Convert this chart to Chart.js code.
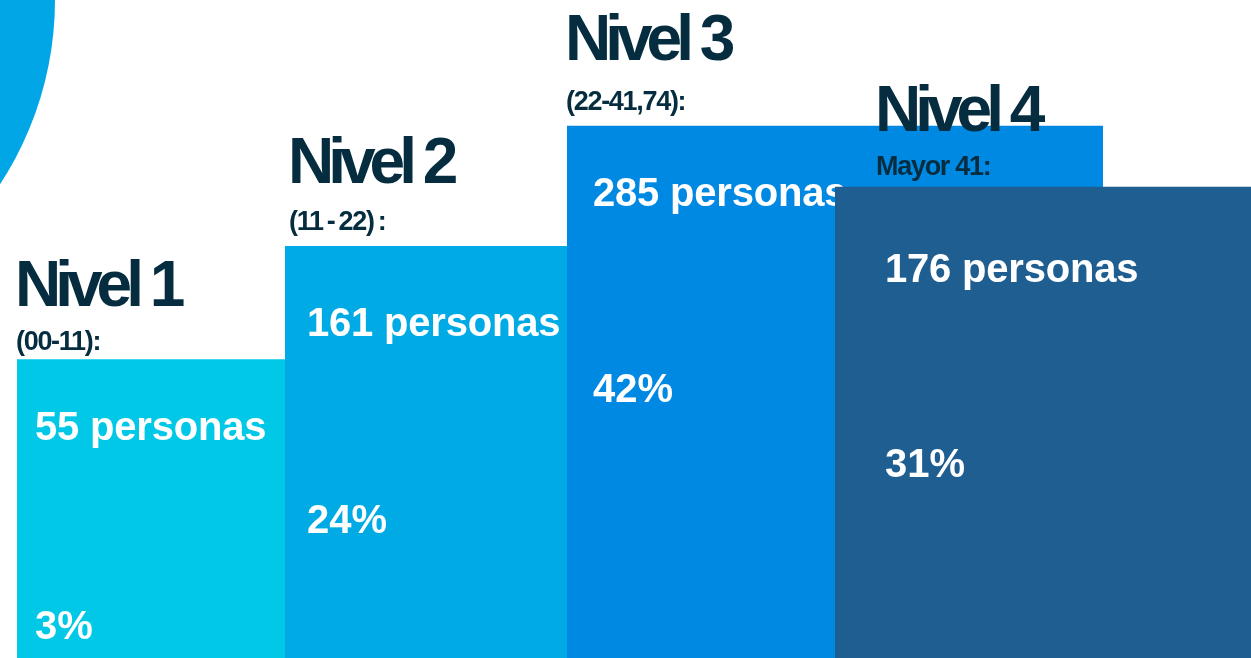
<!DOCTYPE html>
<html>
<head>
<meta charset="utf-8">
<script src="https://cdn.jsdelivr.net/npm/chart.js@4/dist/chart.umd.min.js"></script>
<style>
  html, body { margin: 0; padding: 0; background: #fff; overflow: hidden; }
  canvas { display: block; }
</style>
</head>
<body>
<canvas id="niveles" width="1251" height="658"></canvas>
<script>
// Datos
const niveles = ['Nivel 1', 'Nivel 2', 'Nivel 3', 'Nivel 4'];
const rangos = ['(00-11):', '(11\u2009-\u200922)\u2009:', '(22-41,74):', 'Mayor 41:'];
const personas = [55, 161, 285, 176];
const porcentajes = [3, 24, 42, 31];
// altura de cada escalón (escala 0-100)
const alturas = [45.4, 62.6, 80.9, 71.6];

// Maquetación: tramo horizontal de cada escalón (escala 0-100) y colores
const tramos = [[1.359, 22.782], [22.782, 45.324], [45.324, 88.169], [66.747, 100]];
const colores = ['#00C8E6', '#00AAE4', '#0089E2', '#1F5E91'];
// desplazamientos de los textos respecto a la esquina superior izquierda de cada escalón (px)
const offTitulo = [[-2, -53], [3, -63], [-2, -66], [40, -56]];
const offRango = [[-1, -9], [4, -16], [-1, -16], [41, -12]];
const offPersonas = [[18, 81], [22, 90], [26, 80], [50, 95]];
const offPct = [[18, 280], [22, 287], [26, 276], [50, 290]];

const FUENTE = '"Liberation Sans", Arial, sans-serif';

function escribir(ctx, str, x, y, font, color, spacing) {
    ctx.font = font;
    ctx.fillStyle = color;
    ctx.letterSpacing = (spacing || 0) + 'px';
    ctx.fillText(str, x, y);
    ctx.letterSpacing = '0px';
}

// Círculo decorativo de la esquina superior izquierda
const circuloPlugin = {
    id: 'circulo',
    beforeDatasetsDraw(chart) {
        const ctx = chart.ctx;
        ctx.save();
        ctx.fillStyle = '#00A6E6';
        ctx.beginPath();
        ctx.arc(-281, 0, 336, 0, Math.PI * 2);
        ctx.fill();
        ctx.restore();
    }
};

// Textos de cada escalón, dibujados justo después de su relleno
const etiquetasPlugin = {
    id: 'etiquetas',
    afterDatasetDraw(chart, args) {
        const i = args.index;
        const ctx = chart.ctx;
        const x0 = chart.scales.x.getPixelForValue(tramos[i][0]);
        const top = chart.scales.y.getPixelForValue(alturas[i]);
        ctx.save();
        ctx.textAlign = 'left';
        ctx.textBaseline = 'alphabetic';
        escribir(ctx, niveles[i], x0 + offTitulo[i][0], top + offTitulo[i][1],
            'bold 64px ' + FUENTE, '#052C3F', -6);
        escribir(ctx, rangos[i], x0 + offRango[i][0], top + offRango[i][1],
            'bold 27px ' + FUENTE, '#052C3F', -1.3);
        escribir(ctx, personas[i] + ' personas', x0 + offPersonas[i][0], top + offPersonas[i][1],
            'bold 40px ' + FUENTE, '#FFFFFF', -0.2);
        escribir(ctx, porcentajes[i] + '%', x0 + offPct[i][0], top + offPct[i][1],
            'bold 40px ' + FUENTE, '#FFFFFF', 0);
        ctx.restore();
    }
};

const datasets = niveles.map((nombre, i) => ({
    label: nombre,
    data: [{ x: tramos[i][0], y: alturas[i] }, { x: tramos[i][1], y: alturas[i] }],
    fill: 'origin',
    backgroundColor: colores[i],
    borderWidth: 0,
    borderColor: 'rgba(0,0,0,0)',
    pointRadius: 0,
    tension: 0,
    // el escalón de la derecha tapa al anterior
    order: niveles.length - 1 - i
}));

new Chart(document.getElementById('niveles'), {
    type: 'line',
    data: { datasets: datasets },
    options: {
        responsive: false,
        animation: false,
        devicePixelRatio: 1,
        layout: { padding: 0 },
        plugins: { legend: { display: false }, tooltip: { enabled: false } },
        scales: {
            x: { type: 'linear', min: 0, max: 100, display: false },
            y: { min: 0, max: 100, display: false }
        }
    },
    plugins: [circuloPlugin, etiquetasPlugin]
});
</script>
</body>
</html>
